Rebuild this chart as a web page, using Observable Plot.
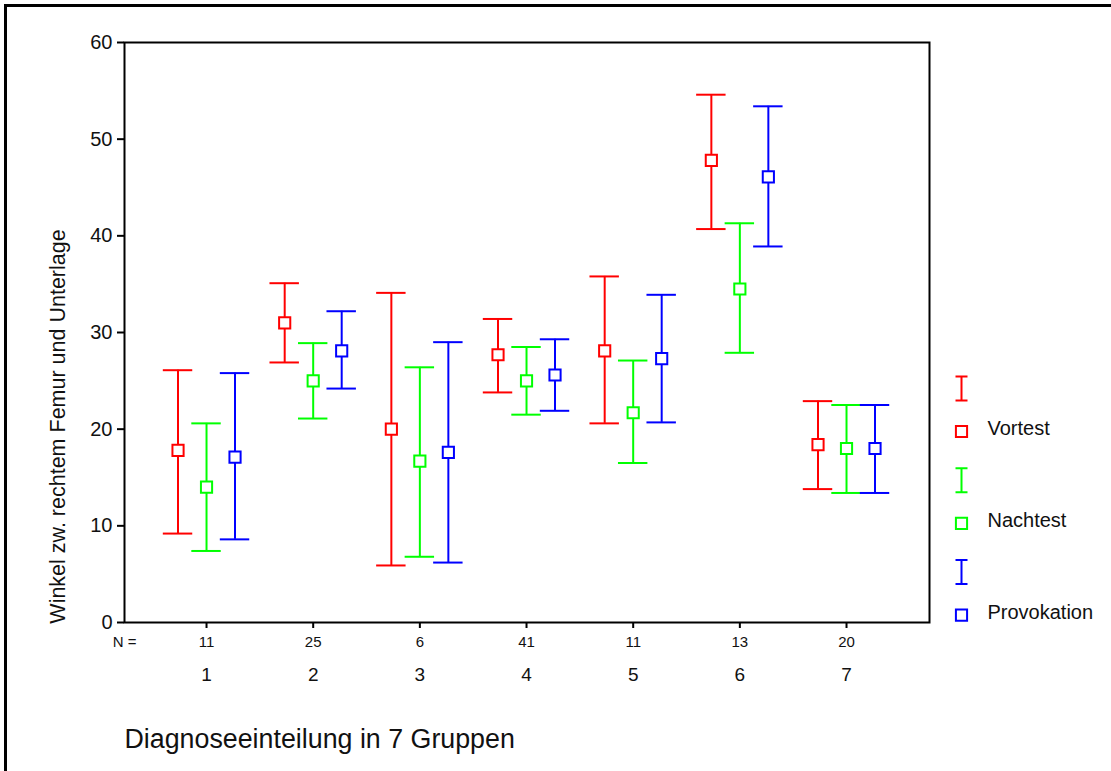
<!DOCTYPE html>
<html>
<head>
<meta charset="utf-8">
<script src="https://cdn.jsdelivr.net/npm/d3@7"></script>
<script src="https://cdn.jsdelivr.net/npm/@observablehq/plot@0.6"></script>
<style>
  html, body { margin: 0; padding: 0; background: #fff; overflow: hidden; }
  #wrap { position: relative; width: 1111px; height: 771px; overflow: hidden; background: #fff; }
  #wrap svg { display: block; }
  .bar { position: absolute; background: #000; pointer-events: none; }
  #topbar { left: 4px; top: 4px; width: 1107px; height: 3px; }
  #leftbar { left: 4px; top: 4px; width: 3px; height: 767px; }
</style>
</head>
<body>
<div id="wrap"><div class="bar" id="topbar"></div><div class="bar" id="leftbar"></div></div>
<script>
const groups = [1, 2, 3, 4, 5, 6, 7];
const nLabels = ["11", "25", "6", "41", "11", "13", "20"];
const seriesNames = ["Vortest", "Nachtest", "Provokation"];
const seriesColors = ["#ff0000", "#00ff00", "#0000ff"];

const vortestMean = [17.8, 31.0, 20.0, 27.7, 28.1, 47.8, 18.4];
const vortestLow  = [9.2, 26.9, 5.9, 23.8, 20.6, 40.7, 13.8];
const vortestHigh = [26.1, 35.1, 34.1, 31.4, 35.8, 54.6, 22.9];

const nachtestMean = [14.0, 25.0, 16.7, 25.0, 21.7, 34.5, 18.0];
const nachtestLow  = [7.4, 21.1, 6.8, 21.5, 16.5, 27.9, 13.4];
const nachtestHigh = [20.6, 28.9, 26.4, 28.5, 27.1, 41.3, 22.5];

const provMean = [17.1, 28.1, 17.6, 25.6, 27.3, 46.1, 18.0];
const provLow  = [8.6, 24.2, 6.2, 21.9, 20.7, 38.9, 13.4];
const provHigh = [25.8, 32.2, 29.0, 29.3, 33.9, 53.4, 22.5];

const yTicks = [0, 10, 20, 30, 40, 50, 60];
const yLabel = "Winkel zw. rechtem Femur und Unterlage";
const xTitle = "Diagnoseeinteilung in 7 Gruppen";

const seriesData = [
  [vortestMean, vortestLow, vortestHigh],
  [nachtestMean, nachtestLow, nachtestHigh],
  [provMean, provLow, provHigh]
].map(([m, lo, hi], s) => groups.map((g, i) => ({g, m: m[i], lo: lo[i], hi: hi[i], s})));

const font = "Liberation Sans, Arial, Helvetica, sans-serif";
const offsets = [-28.5, 0, 28.5];
const capHalf = 0.138; // in group units
const sw = 2;

const iBeam = {
  draw(ctx) {
    const h = 12, w = 6;
    ctx.moveTo(0, -h); ctx.lineTo(0, h);
    ctx.moveTo(-w, -h); ctx.lineTo(w, -h);
    ctx.moveTo(-w, h); ctx.lineTo(w, h);
  }
};

const marks = [];
seriesData.forEach((data, s) => {
  const c = seriesColors[s], dx = offsets[s];
  marks.push(Plot.ruleX(data, {x: "g", y1: "lo", y2: "hi", stroke: c, strokeWidth: sw, dx}));
  marks.push(Plot.ruleY(data, {y: "hi", x1: d => d.g - capHalf, x2: d => d.g + capHalf, stroke: c, strokeWidth: sw, dx}));
  marks.push(Plot.ruleY(data, {y: "lo", x1: d => d.g - capHalf, x2: d => d.g + capHalf, stroke: c, strokeWidth: sw, dx}));
  marks.push(Plot.dot(data, {x: "g", y: "m", symbol: "square", r: 6.3, stroke: c, strokeWidth: sw, fill: "white", dx}));
  // legend
  const base = s * 91.8;
  marks.push(Plot.dot([seriesNames[s]], {frameAnchor: "top-right", dx: 32, dy: 346 + base, symbol: iBeam, r: 6, stroke: c, strokeWidth: sw, fill: "none"}));
  marks.push(Plot.dot([seriesNames[s]], {frameAnchor: "top-right", dx: 32, dy: 389 + base, symbol: "square", r: 6.3, stroke: c, strokeWidth: sw, fill: "white"}));
  marks.push(Plot.text([seriesNames[s]], {frameAnchor: "top-right", dx: 58, dy: 386 + base, text: d => d, textAnchor: "start", lineAnchor: "middle", fontSize: 20, fill: "#111"}));
});

const chart = Plot.plot({
  width: 1111,
  height: 771,
  marginLeft: 124,
  marginRight: 182,
  marginTop: 42,
  marginBottom: 149,
  style: {fontFamily: font, background: "transparent", color: "#111", overflow: "hidden"},
  x: {type: "linear", domain: [0.231, 7.778], axis: null},
  y: {domain: [0, 60], axis: null},
  marks: [
    Plot.axisY({ticks: yTicks, tickSize: 7, tickPadding: 5, fontSize: 20, label: null, strokeWidth: 2, stroke: "#000"}),
    Plot.axisX({ticks: groups, tickSize: 6, tickFormat: () => "", label: null, strokeWidth: 2, stroke: "#000"}),
    Plot.text(groups, {x: d => d, text: (d, i) => nLabels[i], frameAnchor: "bottom", dy: 20, lineAnchor: "middle", fontSize: 15, fill: "#111"}),
    Plot.text(groups, {x: d => d, text: d => String(d), frameAnchor: "bottom", dy: 52, lineAnchor: "middle", fontSize: 19, fill: "#111"}),
    Plot.text(["N ="], {frameAnchor: "bottom-left", dy: 20, text: d => d, lineAnchor: "middle", textAnchor: "middle", fontSize: 15, fill: "#111"}),
    Plot.text([xTitle], {frameAnchor: "bottom-left", dy: 117, text: d => d, lineAnchor: "middle", textAnchor: "start", fontSize: 26.8, fill: "#111"}),
    Plot.text([yLabel], {frameAnchor: "left", dx: -66, dy: 94, text: d => d, rotate: -90, lineAnchor: "middle", textAnchor: "middle", fontSize: 21.5, fill: "#111"}),
    ...marks,
    Plot.frame({stroke: "#000", strokeWidth: 2})
  ]
});
document.getElementById("wrap").prepend(chart);
</script>
</body>
</html>
